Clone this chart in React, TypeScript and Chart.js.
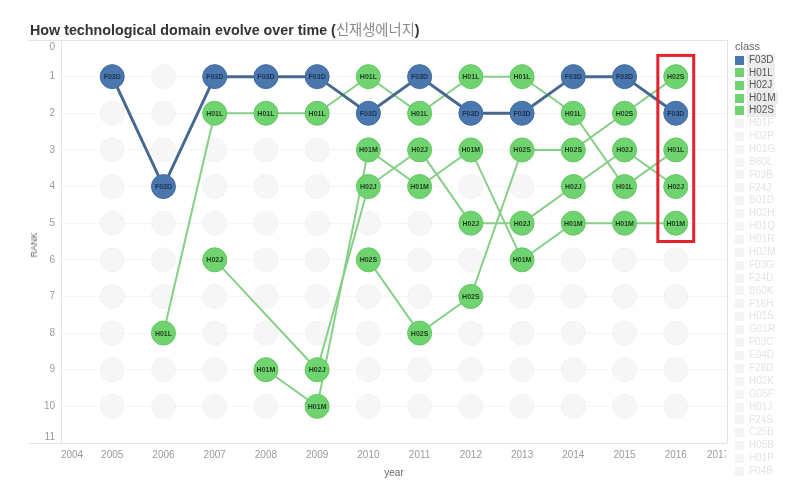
import React, { useEffect, useRef } from "react";
import { Chart, registerables } from "chart.js";

Chart.register(...registerables);

const years = [2005, 2006, 2007, 2008, 2009, 2010, 2011, 2012, 2013, 2014, 2015, 2016];
const rankSlots = [1, 2, 3, 4, 5, 6, 7, 8, 9, 10];
const xTicks = [2004, 2005, 2006, 2007, 2008, 2009, 2010, 2011, 2012, 2013, 2014, 2015, 2016, 2017];
const yTicks = [0, 1, 2, 3, 4, 5, 6, 7, 8, 9, 10, 11];

const classes = ["F03D", "H01L", "H02J", "H01M", "H02S"];
const rankF03D = [1, 4, 1, 1, 1, 2, 1, 2, 2, 1, 1, 2];
const rankH01L = [null, 8, 2, 2, 2, 1, 2, 1, 1, 2, 4, 3];
const rankH02J = [null, null, 6, null, 9, 4, 3, 5, 5, 4, 3, 4];
const rankH01M = [null, null, null, 9, 10, 3, 4, 3, 6, 5, 5, 5];
const rankH02S = [null, null, null, null, null, 6, 8, 7, 3, 3, 2, 1];
const seriesRanks = [rankF03D, rankH01L, rankH02J, rankH01M, rankH02S];

const fadedClasses = [
  "H01F", "H02P", "H01G", "B60L", "F03B", "F24J", "B01D", "H02H", "H01Q", "H01R",
  "H02M", "F03G", "F24D", "B60K", "F16H", "H01S", "G01R", "F03C", "E04D", "F28D",
  "H02K", "G05F", "H01J", "F24S", "C25B", "H05B", "H01P", "F04B",
];

const highlightYear = 2016;
const highlightRanks = [0.42, 5.5];

const BLUE = "#4a77ad";
const GREEN = "#6fd46f";
const FONT = '"Liberation Sans", Arial, sans-serif';

const toPoints = (arr: (number | null)[]) =>
  years.map((yr, i) => (arr[i] == null ? null : { x: yr, y: arr[i] as number })).filter(Boolean) as { x: number; y: number }[];

const overlayPlugin = {
  id: "overlay",
  beforeDatasetsDraw(chart: any) {
    const ctx = chart.ctx;
    const { left, right, top, bottom } = chart.chartArea;
    ctx.save();
    ctx.strokeStyle = "#e4e4e4";
    ctx.lineWidth = 1;
    ctx.beginPath();
    ctx.moveTo(28, top + 0.5);
    ctx.lineTo(right, top + 0.5);
    ctx.moveTo(28, bottom + 0.5);
    ctx.lineTo(right, bottom + 0.5);
    ctx.moveTo(left + 0.5, top);
    ctx.lineTo(left + 0.5, bottom);
    ctx.moveTo(right + 0.5, top);
    ctx.lineTo(right + 0.5, bottom);
    ctx.stroke();
    ctx.restore();
  },
  afterDatasetsDraw(chart: any) {
    const ctx = chart.ctx;
    const xs = chart.scales.x;
    const ys = chart.scales.y;
    const { left, right, top, bottom } = chart.chartArea;
    ctx.save();
    chart.data.datasets.forEach((ds: any, di: number) => {
      if (!ds.isMarker) return;
      const meta = chart.getDatasetMeta(di);
      ctx.font = `bold 7px ${FONT}`;
      ctx.textAlign = "center";
      ctx.textBaseline = "middle";
      ctx.fillStyle = ds.label === "F03D" ? "#1d3252" : "#1f3d1f";
      meta.data.forEach((el: any) => {
        ctx.fillText(ds.label, el.x, el.y + 0.5);
      });
    });
    ctx.fillStyle = "#9a9a9a";
    ctx.font = `10px ${FONT}`;
    ctx.textAlign = "right";
    ctx.textBaseline = "middle";
    yTicks.forEach((v) => {
      let py = ys.getPixelForValue(v);
      py = Math.min(Math.max(py, top + 7), bottom - 6);
      ctx.fillText(String(v), left - 6, py);
    });
    ctx.save();
    ctx.beginPath();
    ctx.rect(0, bottom, right - 1, 60);
    ctx.clip();
    ctx.textAlign = "center";
    xTicks.forEach((v) => {
      let px = xs.getPixelForValue(v);
      px = Math.min(Math.max(px, left + 11), right - 9);
      ctx.fillText(String(v), px, bottom + 12);
    });
    ctx.restore();
    const x1 = xs.getPixelForValue(highlightYear - 0.35);
    const x2 = xs.getPixelForValue(highlightYear + 0.35);
    const y1 = ys.getPixelForValue(highlightRanks[0]);
    const y2 = ys.getPixelForValue(highlightRanks[1]);
    ctx.strokeStyle = "#e3222b";
    ctx.lineWidth = 3;
    ctx.strokeRect(x1, y1, x2 - x1, y2 - y1);
    ctx.restore();
  },
};

function App() {
  const canvasRef = useRef<HTMLCanvasElement | null>(null);

  useEffect(() => {
    if (!canvasRef.current) return;
    const ghost: { x: number; y: number }[] = [];
    years.forEach((yr) => rankSlots.forEach((r) => ghost.push({ x: yr, y: r })));

    const lineSets = classes.map((c, i) => ({
      label: c + "-line",
      data: toPoints(seriesRanks[i]),
      showLine: true,
      borderColor: c === "F03D" ? "#48698f" : "#86cf86",
      borderWidth: c === "F03D" ? 3 : 2,
      pointRadius: 0,
      pointHoverRadius: 0,
      order: 2,
    }));
    const markerSets = classes.map((c, i) => ({
      label: c,
      isMarker: true,
      data: toPoints(seriesRanks[i]),
      showLine: false,
      backgroundColor: c === "F03D" ? BLUE : GREEN,
      borderColor: c === "F03D" ? "#3f6a9e" : "#62c862",
      borderWidth: 1,
      pointRadius: 12,
      pointHoverRadius: 12,
      order: 1,
    }));

    const chart = new Chart(canvasRef.current, {
      type: "scatter",
      data: {
        datasets: [
          {
            label: "other",
            data: ghost,
            showLine: false,
            backgroundColor: "#f7f6f6",
            borderColor: "#f4f3f3",
            borderWidth: 1,
            pointRadius: 12,
            order: 3,
          } as any,
          ...lineSets,
          ...markerSets,
        ],
      },
      options: {
        animation: false,
        responsive: false,
        devicePixelRatio: 1,
        layout: { padding: { left: 0, top: 40, right: 72, bottom: 0 } },
        plugins: { legend: { display: false }, tooltip: { enabled: false }, title: { display: false } },
        scales: {
          x: {
            type: "linear",
            min: 2004,
            max: 2017,
            grid: { display: false },
            border: { display: false },
            ticks: { display: false, stepSize: 1 },
            afterFit: (s: any) => {
              s.height = 55;
            },
          },
          y: {
            type: "linear",
            min: 0,
            max: 11,
            reverse: true,
            grid: { color: "#f5f5f5", drawTicks: false },
            border: { display: false },
            ticks: { display: false, stepSize: 1 },
            afterFit: (s: any) => {
              s.width = 61;
            },
          },
        },
      } as any,
      plugins: [overlayPlugin],
    });
    return () => chart.destroy();
  }, []);

  return (
    <div style={{ position: "fixed", left: 0, top: 0, width: 799, height: 498, background: "#fff", fontFamily: FONT }}>
      <canvas ref={canvasRef} width={799} height={498} style={{ position: "absolute", left: 0, top: 0 }} />
      <div style={{ position: "absolute", left: 30, top: 18, fontSize: 14.3, fontWeight: "bold", color: "#333", whiteSpace: "nowrap" }}>
        How technological domain evolve over time (
        <span style={{ fontWeight: "normal", color: "#8a8a8a", fontFamily: '"Noto Sans CJK KR", sans-serif' }}>신재생에너지</span>)
      </div>
      <div style={{ position: "absolute", left: 34, top: 245, transform: "translate(-50%,-50%) rotate(-90deg)", fontSize: 9, color: "#666" }}>
        RANK
      </div>
      <div style={{ position: "absolute", left: 394, top: 472, transform: "translate(-50%,-50%)", fontSize: 10, color: "#666" }}>
        year
      </div>
      <div style={{ position: "absolute", left: 735, top: 40, fontSize: 10, lineHeight: "12.6px" }}>
        <div style={{ color: "#666", fontSize: 11, height: 14 }}>class</div>
        {classes.map((c) => (
          <div key={c} style={{ display: "flex", alignItems: "center", height: 12.6 }}>
            <span style={{ width: 9, height: 9, background: c === "F03D" ? BLUE : GREEN, display: "inline-block", marginRight: 3 }} />
            <span style={{ color: "#555", background: "#ececec", padding: "0 2px" }}>{c}</span>
          </div>
        ))}
        {fadedClasses.map((c) => (
          <div key={c} style={{ display: "flex", alignItems: "center", height: 12.9 }}>
            <span style={{ width: 9, height: 9, background: "#f4f4f4", display: "inline-block", marginRight: 3 }} />
            <span style={{ color: "#e4e4e4", padding: "0 2px" }}>{c}</span>
          </div>
        ))}
      </div>
    </div>
  );
}

export default App;
